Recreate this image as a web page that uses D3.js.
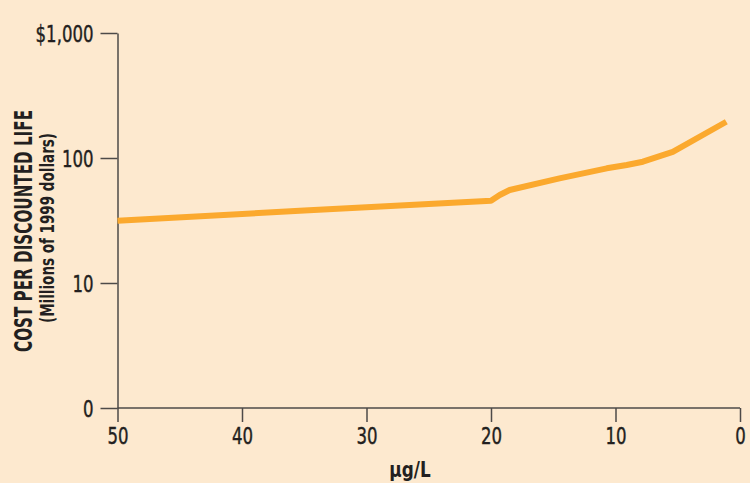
<!DOCTYPE html>
<html>
<head>
<meta charset="utf-8">
<script src="https://cdn.jsdelivr.net/npm/d3@7"></script>
<style>
  body { margin: 0; background: #fde9cf; }
  svg { display: block; }
  .axis text { font-family: "DejaVu Sans Condensed", "Liberation Sans Narrow", sans-serif; font-size: 23px; fill: #231f20; stroke: #231f20; stroke-width: 0.4px; }
  .axis path, .axis line { stroke: #4d4a48; stroke-width: 1.5px; }
  .title { font-family: "DejaVu Sans Condensed", "Liberation Sans Narrow", sans-serif; font-weight: bold; fill: #231f20; }
</style>
</head>
<body>
<svg id="chart" width="750" height="483"></svg>
<script>
// concentration (µg/L) and cost per discounted life (millions of 1999 dollars)
const concentration = [50, 35, 20, 19.3, 18.5, 14.5, 10.7, 9.1, 7.8, 5.4, 1.1];
const costPerLife = [31.5, 38, 45.5, 50.6, 55.5, 68.8, 82.7, 87.9, 93.4, 112, 195];

const xTicks = [50, 40, 30, 20, 10, 0];
const yTicks = [1, 10, 100, 1000];
const yTickLabels = ["0", "10", "100", "$1,000"];

const svg = d3.select("#chart");

const x = d3.scaleLinear().domain([50, 0]).range([117.5, 740]);
const y = d3.scaleLog().domain([1, 1000]).range([408, 33]);

// squeeze glyphs a bit, the original uses a condensed face
function condense(sel, k) {
  sel.each(function() {
    const w = this.getComputedTextLength();
    d3.select(this).attr("textLength", w * k).attr("lengthAdjust", "spacingAndGlyphs");
  });
}

// axes
svg.append("g")
  .attr("class", "axis")
  .attr("transform", "translate(117.5,0)")
  .call(d3.axisLeft(y)
    .tickValues(yTicks)
    .tickFormat((d, i) => yTickLabels[i])
    .tickSize(17)
    .tickSizeOuter(0)
    .tickPadding(7))
  .call(g => g.selectAll("text").attr("dy", "0.36em").call(condense, 0.8));

svg.append("g")
  .attr("class", "axis")
  .attr("transform", "translate(0,408)")
  .call(d3.axisBottom(x)
    .tickValues(xTicks)
    .tickFormat(d3.format("d"))
    .tickSize(14)
    .tickSizeOuter(0)
    .tickPadding(6))
  .call(g => g.select(".domain").remove())
  .call(g => g.selectAll("text").call(condense, 0.8));

// horizontal baseline across plot
svg.append("line")
  .attr("x1", 117.5).attr("x2", x(0))
  .attr("y1", y(1)).attr("y2", y(1))
  .attr("stroke", "#4d4a48").attr("stroke-width", 1.5);

// the line
const line = d3.line()
  .x((d, i) => x(concentration[i]))
  .y(d => y(d));

svg.append("path")
  .datum(costPerLife)
  .attr("d", line)
  .attr("fill", "none")
  .attr("stroke", "#fba92e")
  .attr("stroke-width", 6)
  .attr("stroke-linejoin", "round");

// axis titles
svg.append("text")
  .attr("class", "title")
  .attr("transform", "translate(32,231) rotate(-90)")
  .attr("text-anchor", "middle")
  .attr("font-size", 24)
  .attr("textLength", 242)
  .attr("lengthAdjust", "spacingAndGlyphs")
  .text("COST PER DISCOUNTED LIFE");

svg.append("text")
  .attr("class", "title")
  .attr("transform", "translate(54,228) rotate(-90)")
  .attr("text-anchor", "middle")
  .attr("font-size", 19)
  .attr("textLength", 190)
  .attr("lengthAdjust", "spacingAndGlyphs")
  .text("(Millions of 1999 dollars)");

svg.append("text")
  .attr("class", "title")
  .attr("x", 410)
  .attr("y", 477)
  .attr("text-anchor", "middle")
  .attr("font-size", 22)
  .text("μg/L")
  .call(condense, 0.85);
</script>
</body>
</html>
